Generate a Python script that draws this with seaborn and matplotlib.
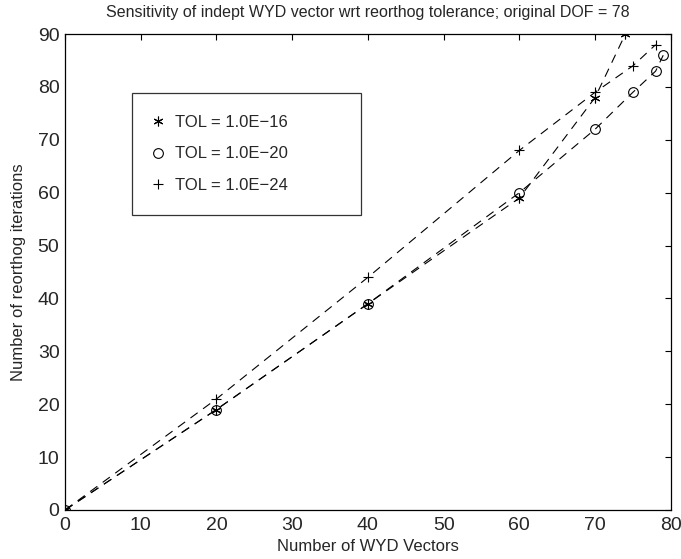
import matplotlib
matplotlib.use("Agg")
import matplotlib.pyplot as plt
from matplotlib.lines import Line2D
import seaborn as sns
import pandas as pd

# values
x_16 = [0, 20, 40, 60, 70, 74]
y_16 = [0, 19, 39, 59, 78, 90]
x_20 = [0, 20, 40, 60, 70, 75, 78, 79]
y_20 = [0, 19, 39, 60, 72, 79, 83, 86]
x_24 = [0, 20, 40, 60, 70, 75, 78]
y_24 = [0, 21, 44, 68, 79, 84, 88]
labels = ["TOL = 1.0E\u221216", "TOL = 1.0E\u221220", "TOL = 1.0E\u221224"]

sns.set_style("white")
plt.rcParams['font.family'] = ['Liberation Sans', 'DejaVu Sans']

star = (6, 2, 0)
series = [(x_16, y_16, star, 'k'), (x_20, y_20, 'o', 'none'), (x_24, y_24, '+', 'k')]

fig = plt.figure(figsize=(6.81, 5.59), dpi=100)
ax = fig.add_axes([0.0955, 0.0877, 0.8895, 0.8513])

handles = []
for (xs, ys, mk, fc), lab in zip(series, labels):
    df = pd.DataFrame({'x': xs, 'y': ys})
    sns.lineplot(data=df, x='x', y='y', ax=ax, color='k', linestyle=(0, (8, 6)),
                 linewidth=0.8, marker=mk, markersize=7, markerfacecolor=fc,
                 markeredgecolor='k', markeredgewidth=0.8, sort=False, estimator=None)
    handles.append(Line2D([], [], linestyle='none', marker=mk, color='k',
                          markerfacecolor=fc, markersize=7, markeredgewidth=0.8, label=lab))

ax.set_xlim(0, 80)
ax.set_ylim(0, 90)
ax.set_xticks(range(0, 81, 10))
ax.set_yticks(range(0, 91, 10))
ax.tick_params(direction='in', top=True, right=True, length=4, width=0.8,
               labelsize=14, color='k')
ax.tick_params(axis='x', pad=5)
ax.tick_params(axis='y', pad=4)
for s in ax.spines.values():
    s.set_color('k')
    s.set_linewidth(0.9)

ax.set_xlabel("Number of WYD Vectors", fontsize=12, labelpad=4)
ax.set_ylabel("Number of reorthog iterations", fontsize=12, labelpad=8)
ax.set_title("Sensitivity of indept WYD vector wrt reorthog tolerance; original DOF = 78",
             fontsize=11.5, pad=12)

leg = ax.legend(handles=handles, loc='upper left',
                bbox_to_anchor=(0.11, 0.624, 0.378, 0.252), mode='expand',
                borderaxespad=0, fancybox=False, frameon=True, edgecolor='k',
                fontsize=12, handlelength=0.6, handletextpad=0.7, borderpad=1.3,
                labelspacing=1.0)
leg.get_frame().set_linewidth(0.9)

fig.savefig("out.png", dpi=100)
